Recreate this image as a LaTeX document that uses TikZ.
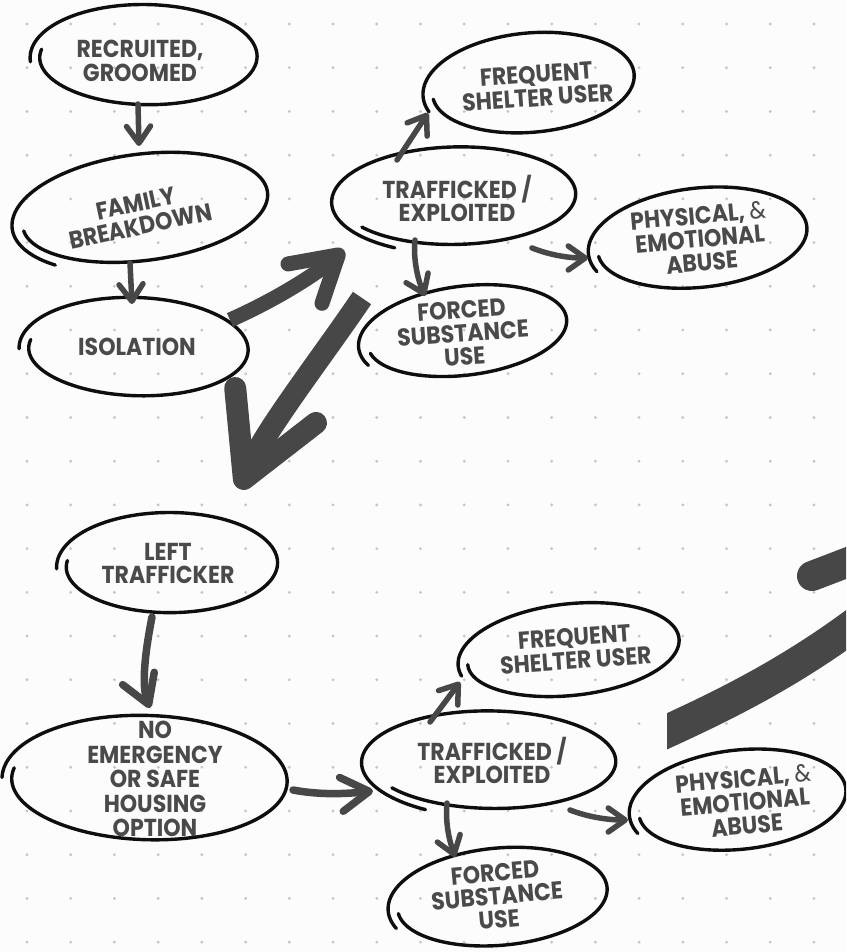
\documentclass[tikz,border=0pt]{standalone}
\usepackage{fontspec}
\newfontfamily\lbl{Poppins}[FakeStretch=0.9]
\usetikzlibrary{arrows.meta,calc,shapes.geometric}
\definecolor{bgc}{HTML}{FCFCFC}
\definecolor{dotc}{HTML}{C6C6C6}
\definecolor{txtc}{HTML}{4A4A4A}
\definecolor{arrc}{HTML}{474747}
\definecolor{ellc}{HTML}{0E0E0E}
\tikzset{
  ell/.style={ellipse, inner sep=0pt, draw=none},
  elline/.style={draw=ellc, line width=3.4pt, line cap=round},
  lbl/.style={text=txtc, align=center, inner sep=0pt, font=\lbl\bfseries\fontsize{24.5}{23.5}\selectfont},
  arr/.style={draw=arrc, line cap=round},
  sarrow/.style={arr, line width=5.5pt, -{Straight Barb[length=17pt,width=24pt,round]}},
  marrow/.style={arr, line width=7.5pt, -{Straight Barb[length=28pt,width=34pt,round]}},
}
\newcommand\sketchell[7]{%
  \draw[elline, shift={(#1.center)}, rotate=#4]
    plot[domain=#5:#5+360+#6, samples=160, smooth, variable=\t]
    ({(#2-#7/2+#7*(\t-#5)/(360+#6))*cos(\t)}, {-(#3-#7/2+#7*(\t-#5)/(360+#6))*sin(\t)});
}
\begin{document}
\begin{tikzpicture}[x=1pt,y=-1pt]
\clip (0,0) rectangle (846,952);
\fill[bgc] (0,0) rectangle (846,952);
\foreach \i in {0,...,18}{\foreach \j in {0,...,21}{\fill[dotc] ({27+43.72*\i},{24+43.72*\j}) circle (1.6pt);}}

% ellipse nodes
\node[ell, minimum width=222pt, minimum height=100pt] (rec) at (146,57) {};
\node[ell, minimum width=254pt, minimum height=108pt, rotate=8] (fam) at (142.5,210) {};
\node[ell, minimum width=224pt, minimum height=98pt, rotate=-1] (iso) at (136,349) {};
\node[ell, minimum width=242pt, minimum height=100pt, rotate=2] (tr1) at (456,198) {};
\node[ell, minimum width=208pt, minimum height=100pt, rotate=6] (fq1) at (531,85) {};
\node[ell, minimum width=216pt, minimum height=100pt, rotate=7] (ph1) at (700,240) {};
\node[ell, minimum width=206pt, minimum height=90pt, rotate=8] (fo1) at (465,333) {};
\node[ell, minimum width=216pt, minimum height=100pt, rotate=1] (lt) at (169.5,565) {};
\node[ell, minimum width=280pt, minimum height=124pt, rotate=-1] (no) at (147,780) {};
\node[ell, minimum width=252pt, minimum height=100pt] (tr2) at (491,762) {};
\node[ell, minimum width=218pt, minimum height=92pt, rotate=7] (fq2) at (571,652) {};
\node[ell, minimum width=214pt, minimum height=100pt, rotate=7] (ph2) at (740,802) {};
\node[ell, minimum width=216pt, minimum height=98pt, rotate=6] (fo2) at (500,899) {};

% sketchy outlines
\sketchell{rec}{111}{50}{0}{170}{15}{10}
\sketchell{fam}{127}{54}{8}{185}{40}{12}
\sketchell{iso}{112}{49}{-1}{170}{12}{10}
\sketchell{tr1}{121}{50}{2}{215}{25}{10}
\sketchell{fq1}{104}{50}{6}{185}{12}{10}
\sketchell{ph1}{108}{50}{7}{185}{15}{10}
\sketchell{fo1}{103}{45}{8}{190}{12}{10}
\sketchell{lt}{108}{50}{1}{172}{10}{10}
\sketchell{no}{140}{62}{-1}{170}{10}{10}
\sketchell{tr2}{126}{50}{0}{215}{25}{10}
\sketchell{fq2}{109}{46}{7}{180}{12}{10}
\sketchell{ph2}{107}{50}{7}{185}{15}{10}
\sketchell{fo2}{108}{49}{6}{185}{15}{10}

% labels
\node[lbl] (rec-t) at (140,61) {RECRUITED,\\GROOMED};
\node[lbl, rotate=12] (fam-t) at (138,215) {FAMILY\\BREAKDOWN};
\node[lbl] (iso-t) at (137,347) {ISOLATION};
\node[lbl] (tr1-t) at (457,198.5) {TRAFFICKED /\\EXPLOITED};
\node[lbl, rotate=4] (fq1-t) at (537,86) {FREQUENT\\SHELTER USER};
\node[lbl, rotate=5] (ph1-t) at (700,239) {PHYSICAL, {\mdseries\&}\\EMOTIONAL\\ABUSE};
\node[lbl, rotate=4] (fo1-t) at (463,333) {FORCED\\SUBSTANCE\\USE};
\node[lbl] (lt-t) at (168,563.5) {LEFT\\TRAFFICKER};
\node[lbl, font=\lbl\bfseries\fontsize{24.5}{24.5}\selectfont] (no-t) at (155,779) {NO\\EMERGENCY\\OR SAFE\\HOUSING\\OPTION};
\node[lbl] (tr2-t) at (492,760.5) {TRAFFICKED /\\EXPLOITED};
\node[lbl, rotate=4] (fq2-t) at (575,648.5) {FREQUENT\\SHELTER USER};
\node[lbl, rotate=5] (ph2-t) at (745,802) {PHYSICAL, {\mdseries\&}\\EMOTIONAL\\ABUSE};
\node[lbl, rotate=5] (fo2-t) at (497,896) {FORCED\\SUBSTANCE\\USE};

% small connectors
\draw[sarrow] ($(rec)+(-8,47)$) -- ($(fam)+(-3.5,-64)$);
\draw[sarrow] ($(fam)+(-12.5,53)$) -- ($(iso)+(-4,-45)$);
\draw[sarrow] ($(tr1)+(-59,-38)$) -- ($(fq1)+(-103,28)$);
\draw[sarrow] ($(tr1)+(-41,42)$) .. controls ($(tr1)+(-43,62)$) and ($(fo1)+(-47,-53)$) .. ($(fo1)+(-40,-37)$);
\draw[sarrow] ($(tr1)+(76,50)$) .. controls ($(tr1)+(94,57)$) and ($(ph1)+(-132,18)$) .. ($(ph1)+(-112,18)$);
\draw[sarrow] ($(tr2)+(-61,-40)$) -- ($(fq2)+(-111,30)$);
\draw[sarrow] ($(tr2)+(-44,41)$) .. controls ($(tr2)+(-46,63)$) and ($(fo2)+(-50,-57)$) .. ($(fo2)+(-45,-42)$);
\draw[sarrow] ($(tr2)+(79,48)$) .. controls ($(tr2)+(97,55)$) and ($(ph2)+(-132,18)$) .. ($(ph2)+(-112,18)$);
\draw[marrow] ($(lt)+(-17.5,52)$) .. controls ($(lt)+(-24,85)$) and ($(no)+(-6,-95)$) .. ($(no)+(3,-72)$);
\draw[marrow] ($(no)+(146,10)$) .. controls ($(no)+(173,15)$) and ($(tr2)+(-146,32)$) .. ($(tr2)+(-118,29)$);

% big connectors
\draw[draw=arrc, line width=15pt, line cap=butt, -{Straight Barb[length=44pt,width=52pt,round]}]
  ($(iso)+(94,-29)$) .. controls ($(iso)+(139,-49)$) and ($(tr1)+(-141,77)$) .. ($(tr1)+(-112,52)$);
\draw[draw=arrc, line width=22pt, line cap=butt, -{Straight Barb[length=80pt,width=88pt,round]}]
  ($(tr1)+(-94,100)$) .. controls ($(tr1)+(-136,162)$) and ($(lt)+(95.5,-135)$) .. ($(lt)+(70,-76)$);

% band leaving the picture at the right
\coordinate (bandA) at (650,739);
\coordinate (bandB) at (880,605);
\coordinate (armA) at (812,576);
\coordinate (armB) at (880,550);
\begin{scope}
  \clip (667,0) rectangle (900,952);
  \draw[draw=arrc, line width=33pt] (bandA) .. controls (730,703) and (800,668) .. (bandB);
\end{scope}
\draw[draw=arrc, line width=30pt, line cap=round] (armA) -- (armB);
\end{tikzpicture}
\end{document}
